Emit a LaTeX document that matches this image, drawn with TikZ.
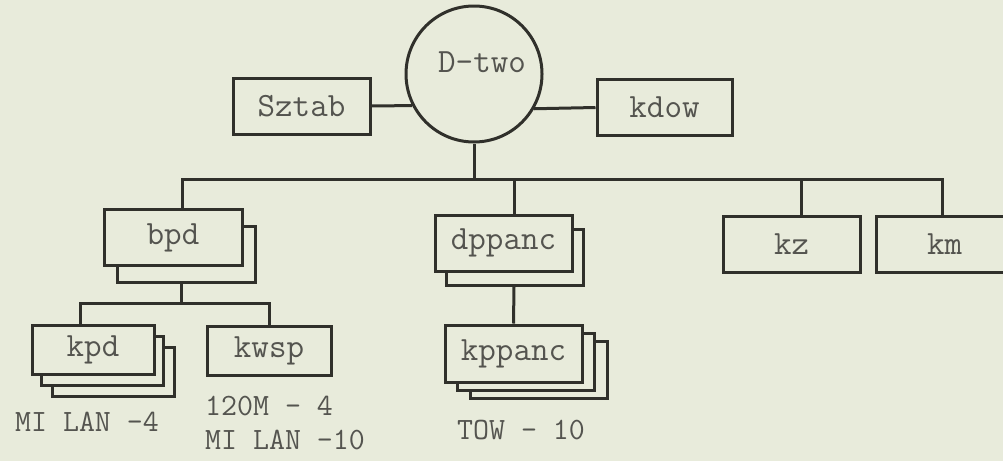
\documentclass[tikz,border=0pt]{standalone}
\usepackage{fontspec}
\usetikzlibrary{shadows}
\definecolor{papier}{rgb}{0.91,0.92,0.86}
\definecolor{tusz}{rgb}{0.19,0.19,0.17}
\definecolor{szary}{rgb}{0.33,0.33,0.31}
\tikzset{every node/.style={font=\ttfamily\fontsize{34}{36}\selectfont, text=szary, inner sep=0pt}}
\tikzset{unit/.style={draw=tusz, line width=3pt, fill=papier, minimum width=137pt, minimum height=56pt}}
\tikzset{kopia/.style 2 args={copy shadow={shadow xshift=#1, shadow yshift=#2, draw=tusz, fill=papier, line width=3pt}}}
\tikzset{link/.style={draw=tusz, line width=3pt}}
\tikzset{bron/.style={font=\ttfamily\fontsize{31}{33}\selectfont}}

\begin{document}
\begin{tikzpicture}[x=1pt, y=-1pt]
	\useasboundingbox (0,0) rectangle (1003,461);
	\clip (0,0) rectangle (1003,461);
	\fill[papier] (0,0) rectangle (1003,461);
	\node[unit, circle, minimum size=136pt] (dtwo) at (474,74) {};
	\node (dtwolbl) at (482,62) {D-two};
	\node[unit] (sztab) at (301.5,106) {Sztab};
	\node[unit, minimum width=135pt] (kdow) at (664.5,107.5) {kdow};
	\node[unit, minimum width=138pt, kopia={13pt}{-17pt}] (bpd) at (173,237.5) {bpd};
	\node[unit, kopia={11pt}{-14pt}] (dppanc) at (503.5,243) {dppanc};
	\node[unit] (kz) at (791.5,244.5) {kz};
	\node[unit] (km) at (944.5,244.5) {km};
	\node[unit, minimum width=122pt, minimum height=49pt, kopia={20pt}{-22pt}, kopia={9pt}{-11pt}] (kpd) at (93,349.5) {kpd};
	\node[unit, minimum width=124pt, minimum height=49pt] (kwsp) at (269,350.5) {kwsp};
	\node[unit, minimum height=57pt, kopia={25pt}{-16pt}, kopia={12pt}{-8pt}] (kppanc) at (513.5,353.5) {kppanc};
	\node[bron] (milan) at (87,422) {MI LAN -4};
	\node[bron, anchor=west] (rkm) at (205,406) {120M - 4};
	\node[bron, anchor=west] (milanb) at (205,440) {MI LAN -10};
	\node[bron, anchor=west] (tow) at (457,430) {TOW - 10};
	\coordinate (bus) at (0,179);
	\coordinate (sub) at (0,303);
	\draw[link] (sztab.east) -- (dtwo.207);
	\draw[link] (dtwo.-30) -- (kdow.west);
	\draw[link] (dtwo.south) -- (dtwo.south |- bus);
	\draw[link] ([xshift=9pt]bpd.north) |- ([xshift=-2.5pt]km.north |- bus) -- ([xshift=-2.5pt]km.north);
	\foreach \n/\dx in {dppanc/11, kz/9.5}{
		\draw[link] ([xshift=\dx pt]\n.north) -- ([xshift=\dx pt]\n.north |- bus);
	}
	\draw[link] ([xshift=8pt,yshift=-17pt]bpd.south) -- ([xshift=8pt]bpd.south |- sub);
	\draw[link] ([xshift=-13pt]kpd.north) |- (kwsp.north |- sub) -- (kwsp.north);
	\draw[link] ([xshift=10.5pt,yshift=-14pt]dppanc.south) -- (kppanc.north);
\end{tikzpicture}
\end{document}
